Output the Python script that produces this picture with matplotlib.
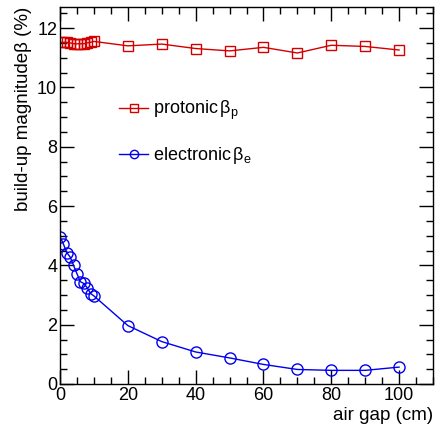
import matplotlib
matplotlib.use("Agg")
import matplotlib.pyplot as plt
from matplotlib.ticker import MultipleLocator

plt.rcParams['font.family'] = ['Liberation Sans', 'DejaVu Sans']
plt.rcParams['mathtext.fontset'] = 'custom'
plt.rcParams['mathtext.rm'] = 'Liberation Sans'
plt.rcParams['mathtext.default'] = 'regular'

x_p = [0, 1, 2, 3, 4, 5, 6, 7, 8, 9, 10, 20, 30, 40, 50, 60, 70, 80, 90, 100]
beta_p = [11.52, 11.52, 11.52, 11.50, 11.47, 11.47, 11.47, 11.47, 11.50, 11.52, 11.55,
          11.40, 11.46, 11.31, 11.23, 11.35, 11.16, 11.42, 11.38, 11.26]
x_e = [0, 1, 2, 3, 4, 5, 6, 7, 8, 9, 10, 20, 30, 40, 50, 60, 70, 80, 90, 100]
beta_e = [4.97, 4.72, 4.43, 4.28, 4.00, 3.72, 3.45, 3.39, 3.25, 3.05, 2.97,
          1.97, 1.43, 1.08, 0.88, 0.66, 0.49, 0.46, 0.46, 0.57]

fig = plt.figure(figsize=(4.47, 4.37), dpi=100)
ax = fig.add_axes([60/447, 1-384/437, 373/447, 377/437])

red = '#d40000'
blue = '#0000ee'
ax.plot(x_p, beta_p, color=red, lw=1, marker='s', ms=7.5, mfc='none', mec=red, mew=1,
        label=r'protonic$\,\beta_{p}$')
ax.plot(x_e, beta_e, color=blue, lw=1, marker='o', ms=8, mfc='none', mec=blue, mew=1,
        label=r'electronic$\,\beta_{e}$')

ax.set_xlim(0, 110)
ax.set_ylim(0, 12.71)
ax.xaxis.set_major_locator(MultipleLocator(20))
ax.xaxis.set_minor_locator(MultipleLocator(5))
ax.yaxis.set_major_locator(MultipleLocator(2))
ax.yaxis.set_minor_locator(MultipleLocator(0.5))
ax.tick_params(which='both', direction='in', top=True, right=True, labelsize=13, width=1)
ax.tick_params(which='major', length=10, pad=2)
ax.tick_params(which='minor', length=5)
for s in ax.spines.values():
    s.set_linewidth(1)

ax.set_xlabel('air gap (cm)', fontsize=13.5, loc='right', labelpad=2)
ax.set_ylabel('build-up magnitude\u03b2 (%)', fontsize=13.5, loc='top', labelpad=4)

leg = ax.legend(loc='upper left', bbox_to_anchor=(0.115, 0.80), frameon=False, fontsize=13,
                handlelength=1.6, labelspacing=1.3, handletextpad=0.3, markerscale=0.75)

fig.savefig('out.png', dpi=100)
